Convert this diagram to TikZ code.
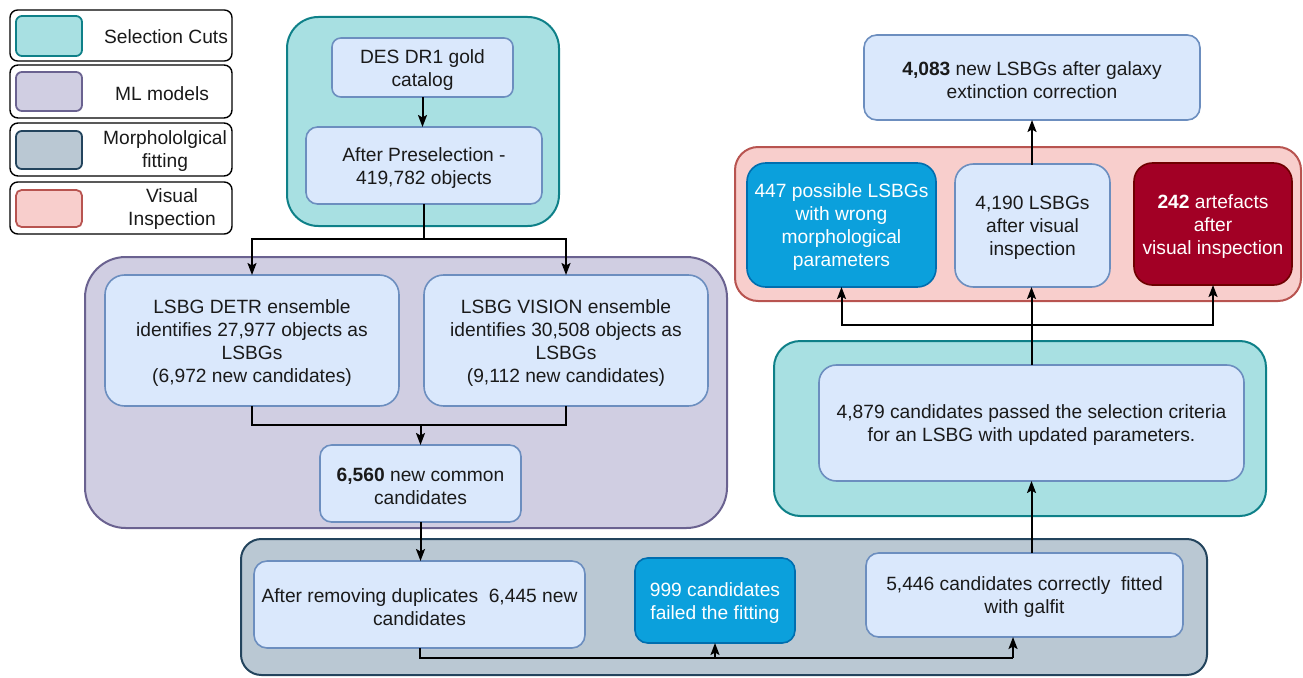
\documentclass[tikz,border=0pt]{standalone}
\usepackage{fontspec}
\setmainfont{Liberation Sans}
\usetikzlibrary{arrows.meta,calc}
\definecolor{lbF}{HTML}{DAE8FC}
\definecolor{lbD}{HTML}{6C8EBF}
\definecolor{cyF}{HTML}{A8E0E2}
\definecolor{cyD}{HTML}{0E8088}
\definecolor{puF}{HTML}{D0CEE2}
\definecolor{puD}{HTML}{6A6290}
\definecolor{grF}{HTML}{BAC8D3}
\definecolor{grD}{HTML}{23445D}
\definecolor{piF}{HTML}{F8CECC}
\definecolor{piD}{HTML}{B85450}
\definecolor{blF}{HTML}{0BA0DC}
\definecolor{blD}{HTML}{006EAF}
\definecolor{crF}{HTML}{A20025}
\definecolor{crD}{HTML}{6F0000}
\definecolor{txt}{HTML}{1A1A1A}
% #1 name, #2-#5 corners (x1,y1,x2,y2), #6 style, #7 text colour, #8 text
\newcommand\bx[8]{%
  \pgfmathsetmacro\bw{#4-#2}\pgfmathsetmacro\bh{#5-#3}%
  \pgfmathsetmacro\br{0.15*min(\bw,\bh)}%
  \node[#6, minimum width=\bw pt, minimum height=\bh pt, rounded corners=\br pt] (#1) at ({(#2+#4)/2},{(#3+#5)/2}) {};
  \node[text=#7, yshift=-2.5pt] (#1-t) at (#1.center) {#8};}
\begin{document}
\begin{tikzpicture}[x=1pt,y=-1pt,
  every node/.style={font=\fontsize{19.2}{23}\selectfont, text=txt, align=center, inner sep=0pt, outer sep=0pt},
  cont/.style={draw, line width=2pt},
  inbox/.style={draw=lbD, fill=lbF, line width=1.6pt},
  bluebox/.style={draw=blD, fill=blF, line width=1.6pt},
  redbox/.style={draw=crD, fill=crF, line width=1.6pt},
  legbox/.style={draw=black, fill=white, line width=1.4pt},
  legtext/.style={yshift=-1.5pt},
  arr/.style={-{Stealth[length=12pt,width=9pt,inset=2.5pt]}, line width=2pt, black},
  ln/.style={line width=2pt, black}]
\useasboundingbox (0,0) rectangle (1303,677);
% legend
\bx{L1}{10}{10}{232}{61}{legbox}{txt}{}
\bx{L2}{10}{65}{232}{118}{legbox}{txt}{}
\bx{L3}{10}{123}{232}{176}{legbox}{txt}{}
\bx{L4}{10}{182}{232}{234}{legbox}{txt}{}
\bx{S1}{16}{16}{82}{56}{cont,draw=cyD,fill=cyF,line width=1.8pt}{txt}{}
\bx{S2}{16}{72}{82}{111}{cont,draw=puD,fill=puF,line width=1.8pt}{txt}{}
\bx{S3}{16}{131}{82}{169}{cont,draw=grD,fill=grF,line width=1.8pt}{txt}{}
\bx{S4}{16}{190}{82}{227}{cont,draw=piD,fill=piF,line width=1.8pt}{txt}{}
\node[legtext] (T1) at (166,35) {Selection Cuts};
\node[legtext] (T2) at (162,92) {ML models};
\node[legtext] (T3) at (165,150) {Morphololgical\\fitting};
\node[legtext] (T4) at (172,208) {Visual\\Inspection};
% containers
\bx{C1}{287}{17}{559}{226}{cont,draw=cyD,fill=cyF}{txt}{}
\bx{C2}{85}{257}{727}{528}{cont,draw=puD,fill=puF}{txt}{}
\bx{C3}{241}{539}{1207}{675}{cont,draw=grD,fill=grF}{txt}{}
\bx{C4}{774}{341}{1266}{516}{cont,draw=cyD,fill=cyF}{txt}{}
\bx{C5}{735}{147}{1301}{301}{cont,draw=piD,fill=piF}{txt}{}
% boxes
\bx{DES}{332}{38}{513}{97}{inbox}{txt}{DES DR1 gold\\catalog}
\bx{PRE}{306}{127}{542}{204}{inbox}{txt}{After Preselection -\\419,782 objects}
\bx{DETR}{105}{275}{399}{406}{inbox}{txt}{LSBG DETR ensemble\\identifies 27,977 objects as\\LSBGs\\(6,972 new candidates)}
\bx{VIS}{424}{275}{708}{406}{inbox}{txt}{LSBG VISION ensemble\\identifies 30,508 objects as\\LSBGs\\(9,112 new candidates)}
\bx{COM}{320}{445}{521}{522}{inbox}{txt}{\textbf{6,560} new common\\candidates}
\bx{DUP}{254}{561}{585}{648}{inbox}{txt}{After removing duplicates\ \ 6,445 new\\candidates}
\bx{FAIL}{635}{558}{795}{643}{bluebox}{white}{999 candidates\\failed the fitting}
\bx{FIT}{866}{553}{1183}{637}{inbox}{txt}{5,446 candidates correctly\ \ fitted\\with galfit}
\bx{SEL}{819}{365}{1244}{481}{inbox}{txt}{4,879 candidates passed the selection criteria\\for an LSBG with updated parameters.}
\bx{WRONG}{747}{163}{936}{287}{bluebox}{white}{447 possible LSBGs\\with wrong\\morphological\\parameters}
\bx{VI}{955}{164}{1110}{287}{inbox}{txt}{4,190 LSBGs\\after visual\\inspection}
\bx{ART}{1134}{163}{1292}{285}{redbox}{white}{\textbf{242} artefacts\\after\\visual inspection}
\bx{FIN}{864}{35}{1200}{120}{inbox}{txt}{\textbf{4,083} new LSBGs after galaxy\\extinction correction}
% connectors
\coordinate (j1) at (424,239);
\coordinate (j2) at (420.5,425);
\coordinate (j3) at (419.5,658);
\coordinate (j4) at (1031.5,325);
\coordinate (j5) at (1013,658);
\draw[arr] (DES.south) -- (DES.south |- PRE.north);
\draw[ln] (PRE.south) -- (j1);
\draw[arr] (j1) -| (DETR.north);
\draw[arr] (j1) -| (VIS.north);
\draw[ln] (DETR.south) |- (j2) -| (VIS.south);
\draw[arr] (j2) -- (COM.north);
\draw[arr] (COM.south) -- (COM.south |- DUP.north);
\draw[ln] (DUP.south) -- (j3) -- (j5);
\draw[arr] (j3 -| FAIL.south) -- (FAIL.south);
\draw[arr] (j5) -- (j5 |- FIT.south);
\draw[arr] (FIT.north -| SEL.south) -- (SEL.south);
\draw[ln] (SEL.north) -- (j4);
\draw[arr] (j4) -| (WRONG.south);
\draw[arr] (j4) -| (ART.south);
\draw[arr] (j4) -- (j4 |- VI.south);
\draw[arr] (VI.north) -- (VI.north -| FIN.south) -- (FIN.south);
\end{tikzpicture}
\end{document}
